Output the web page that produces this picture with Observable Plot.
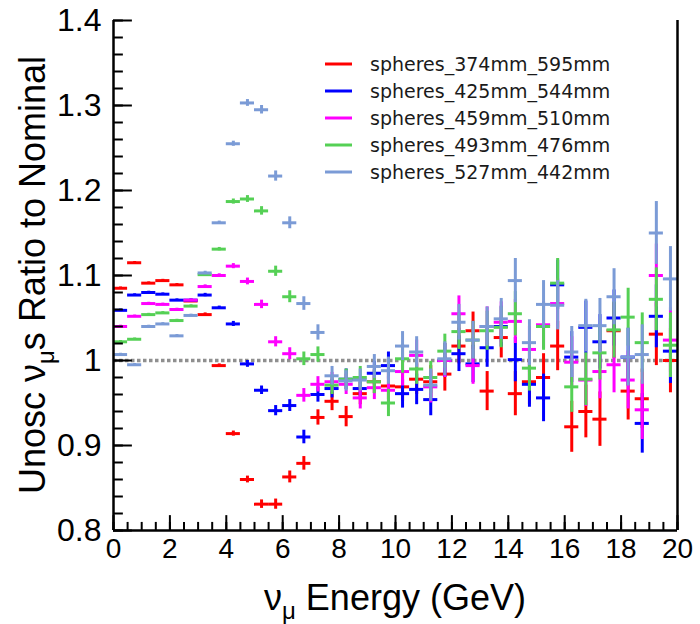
<!DOCTYPE html>
<html>
<head>
<meta charset="utf-8">
<script src="https://cdn.jsdelivr.net/npm/d3@7"></script>
<script src="https://cdn.jsdelivr.net/npm/@observablehq/plot@0.6"></script>
<style>
  html, body { margin: 0; padding: 0; background: white; }
  #chart { width: 700px; height: 624px; }
</style>
</head>
<body>
<div id="chart"></div>
<script>
// ---- data ----
const seriesNames = ["spheres_374mm_595mm", "spheres_425mm_544mm", "spheres_459mm_510mm", "spheres_493mm_476mm", "spheres_527mm_442mm"];
const seriesColors = ["#ff0000", "#0000ff", "#ff00ff", "#55d055", "#7b9bd6"];

const binCenters = [0.25, 0.75, 1.25, 1.75, 2.25, 2.75, 3.25, 3.75, 4.25, 4.75,
  5.25, 5.75, 6.25, 6.75, 7.25, 7.75, 8.25, 8.75, 9.25, 9.75,
  10.25, 10.75, 11.25, 11.75, 12.25, 12.75, 13.25, 13.75, 14.25, 14.75,
  15.25, 15.75, 16.25, 16.75, 17.25, 17.75, 18.25, 18.75, 19.25, 19.75];
const binHalfWidth = 0.25;

const ratio374 = [1.085, 1.115, 1.091, 1.094, 1.089, 1.070, 1.054, 0.994, 0.914, 0.860,
  0.831, 0.831, 0.863, 0.879, 0.933, 0.952, 0.934, 0.961, 0.975, 0.970,
  0.969, 0.978, 0.975, 0.984, 1.017, 1.035, 0.964, 1.027, 0.961, 0.975,
  0.980, 1.017, 0.922, 0.940, 0.931, 1.035, 0.964, 0.955, 1.031, 1.000];
const ratio425 = [1.059, 1.077, 1.080, 1.078, 1.071, 1.071, 1.077, 1.062, 1.043, 0.996,
  0.965, 0.941, 0.947, 0.910, 0.960, 0.967, 0.978, 0.967, 0.985, 0.994,
  0.961, 0.966, 0.954, 1.000, 1.008, 0.996, 1.015, 1.040, 1.001, 0.972,
  0.956, 1.089, 1.004, 1.039, 1.022, 1.050, 1.004, 0.926, 1.052, 1.011];
const ratio459 = [1.040, 1.052, 1.067, 1.066, 1.060, 1.071, 1.087, 1.100, 1.111, 1.093,
  1.066, 1.022, 1.008, 0.959, 0.972, 0.975, 0.972, 0.956, 0.968, 0.965,
  0.987, 1.006, 0.969, 1.000, 1.055, 0.994, 1.040, 1.045, 1.046, 1.013,
  1.042, 1.067, 0.998, 0.977, 0.987, 0.995, 0.977, 0.942, 1.100, 1.024];
const ratio493 = [1.022, 1.025, 1.054, 1.056, 1.047, 1.064, 1.101, 1.131, 1.187, 1.190,
  1.176, 1.105, 1.075, 1.002, 1.007, 0.971, 0.978, 0.980, 0.975, 0.950,
  1.002, 0.990, 0.980, 1.011, 1.034, 1.024, 1.035, 1.039, 1.055, 0.991,
  1.040, 1.091, 0.969, 0.978, 1.009, 1.036, 1.051, 1.021, 1.072, 1.018];
const ratio527 = [1.007, 0.995, 1.040, 1.043, 1.029, 1.053, 1.103, 1.162, 1.255, 1.303,
  1.295, 1.217, 1.162, 1.067, 1.033, 0.982, 0.976, 0.977, 0.993, 0.988,
  1.017, 1.010, 0.971, 1.002, 1.045, 1.024, 1.040, 1.049, 1.094, 1.021,
  1.066, 1.065, 1.010, 1.041, 1.041, 1.075, 1.004, 1.007, 1.150, 1.096];
const statErr = [0.0015, 0.0015, 0.0015, 0.0015, 0.0015, 0.0015, 0.002, 0.002, 0.003, 0.004,
  0.005, 0.006, 0.007, 0.008, 0.009, 0.011, 0.012, 0.013, 0.014, 0.016,
  0.017, 0.018, 0.019, 0.020, 0.021, 0.022, 0.023, 0.024, 0.026, 0.027,
  0.028, 0.029, 0.030, 0.031, 0.032, 0.033, 0.034, 0.035, 0.037, 0.038];

const xTickLabels = [0, 2, 4, 6, 8, 10, 12, 14, 16, 18, 20];
const yTickLabels = [0.8, 0.9, 1.0, 1.1, 1.2, 1.3, 1.4];
const xMinorTicks = d3.range(0, 20.001, 0.5);
const yMinorTicks = d3.range(0.8, 1.4001, 0.02);

// ---- build rows ----
const allSeries = [ratio374, ratio425, ratio459, ratio493, ratio527];
const seriesMarks = [];
allSeries.forEach((vals, s) => {
  const rows = binCenters.map((e, i) => ({e, v: vals[i], err: statErr[i]}));
  seriesMarks.push(Plot.ruleY(rows, {y: "v", x1: d => d.e - binHalfWidth, x2: d => d.e + binHalfWidth, stroke: seriesColors[s], strokeWidth: 3}));
  seriesMarks.push(Plot.ruleX(rows, {x: "e", y1: d => d.v - d.err, y2: d => d.v + d.err, stroke: seriesColors[s], strokeWidth: 3}));
});

// tick lengths (inward), expressed in data units of the plot frame
const yTickMinorLen = 0.35, yTickMajorLen = 0.67;   // along x (GeV)
const xTickMinorLen = 0.0095, xTickMajorLen = 0.0175; // along y (ratio)

const chart = Plot.plot({
  width: 700, height: 624,
  marginLeft: 113, marginRight: 23, marginTop: 20, marginBottom: 94,
  x: {domain: [0, 20]},
  y: {domain: [0.8, 1.4]},
  style: {background: "white", fontFamily: "'Liberation Sans', Arial, sans-serif", color: "black"},
  marks: [
    Plot.ruleY([1], {stroke: "#8f8f8f", strokeWidth: 3.5, strokeDasharray: "3.5,2.5"}),
    ...seriesMarks,
    Plot.ruleY(yMinorTicks, {y: d => d, x1: 0, x2: yTickMinorLen, stroke: "black", strokeWidth: 2}),
    Plot.ruleY(yTickLabels, {y: d => d, x1: 0, x2: yTickMajorLen, stroke: "black", strokeWidth: 2}),
    Plot.ruleX(xMinorTicks, {x: d => d, y1: 0.8, y2: 0.8 + xTickMinorLen, stroke: "black", strokeWidth: 2}),
    Plot.ruleX(xTickLabels, {x: d => d, y1: 0.8, y2: 0.8 + xTickMajorLen, stroke: "black", strokeWidth: 2}),
    Plot.axisY({ticks: yTickLabels, tickSize: 0, tickPadding: 12, fontSize: 32, tickFormat: d => String(+d.toFixed(1)), label: null}),
    Plot.axisX({ticks: xTickLabels, tickSize: 0, tickPadding: 8, fontSize: 28, label: null}),
    Plot.ruleX([0], {stroke: "black", strokeWidth: 2.5}),
    Plot.ruleX([20], {stroke: "black", strokeWidth: 2.5}),
    Plot.ruleY([0.8], {stroke: "black", strokeWidth: 2.5})
  ]
});

const svg = d3.select(chart);
// axis titles
const xt = svg.append("text")
  .attr("x", 395).attr("y", 610)
  .attr("text-anchor", "middle")
  .style("font-family", "'Liberation Sans', Arial, sans-serif")
  .style("font-size", "36px").attr("fill", "black");
xt.append("tspan").text("ν");
xt.append("tspan").attr("dy", 9).style("font-size", "24px").text("μ");
xt.append("tspan").attr("dy", -9).text(" Energy (GeV)");

const yt = svg.append("text")
  .attr("transform", "translate(45,275) rotate(-90)")
  .attr("text-anchor", "middle")
  .style("font-family", "'Liberation Sans', Arial, sans-serif")
  .style("font-size", "36px").attr("fill", "black");
yt.append("tspan").text("Unosc ν");
yt.append("tspan").attr("dy", 9).style("font-size", "24px").text("μ");
yt.append("tspan").attr("dy", -9).text("s Ratio to Nominal");

// legend
const lg = svg.append("g");
seriesNames.forEach((name, i) => {
  const y = 64 + i * 27;
  lg.append("line").attr("x1", 325).attr("x2", 352).attr("y1", y).attr("y2", y)
    .attr("stroke", seriesColors[i]).attr("stroke-width", 3);
  lg.append("text").attr("x", 370).attr("y", y).attr("dy", "0.35em")
    .attr("text-anchor", "start")
    .style("font-family", "'DejaVu Sans', sans-serif").style("font-size", "19px")
    .attr("fill", "#1a1a1a").text(name);
});

document.getElementById("chart").appendChild(chart);
</script>
</body>
</html>
